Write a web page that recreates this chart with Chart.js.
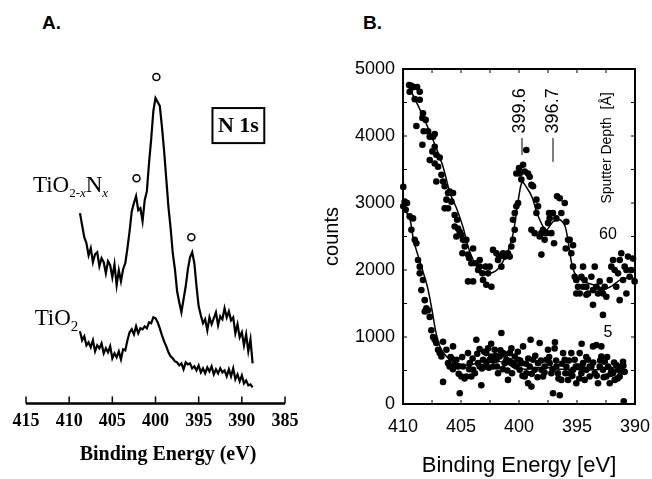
<!DOCTYPE html>
<html>
<head>
<meta charset="utf-8">
<script src="https://cdn.jsdelivr.net/npm/chart.js@4.4.1/dist/chart.umd.min.js"></script>
<style>
  body { margin: 0; background: #fff; width: 652px; height: 479px; position: relative; overflow: hidden; }
  canvas { position: absolute; top: 0; }
  #chartA { left: 0; }
  #chartB { left: 320px; }
  .panel { position: absolute; top: 13px; font: bold 19px "Liberation Sans", Arial, sans-serif; line-height: 19px; }
</style>
</head>
<body>
<div class="panel" style="left:42px">A.</div>
<div class="panel" style="left:363px">B.</div>
<canvas id="chartA" width="320" height="479"></canvas>
<canvas id="chartB" width="332" height="479"></canvas>
<script>
// Panel A: N 1s spectra (binding energy in eV, intensity in arbitrary units)
const aEnergy = [408.75, 408.5, 408.25, 408, 407.75, 407.5, 407.25, 407, 406.75, 406.5,
  406.25, 406, 405.75, 405.5, 405.25, 405, 404.75, 404.5, 404.25, 404,
  403.75, 403.5, 403.25, 403, 402.75, 402.5, 402.25, 402, 401.75, 401.5,
  401.25, 401, 400.75, 400.5, 400.25, 400, 399.75, 399.5, 399.25, 399,
  398.75, 398.5, 398.25, 398, 397.75, 397.5, 397.25, 397, 396.75, 396.5,
  396.25, 396, 395.75, 395.5, 395.25, 395, 394.75, 394.5, 394.25, 394,
  393.75, 393.5, 393.25, 393, 392.75, 392.5, 392.25, 392, 391.75, 391.5,
  391.25, 391, 390.75, 390.5, 390.25, 390, 389.75, 389.5, 389.25, 389, 388.75];
const aNitrided = [190, 178, 166, 160, 148, 155, 141, 149, 151, 137,
  145, 141, 130, 142, 138, 126, 139, 118, 133, 122,
  134, 140, 155, 172, 192, 200, 207, 193, 195, 182,
  203, 212, 240, 264, 292, 305, 301, 297, 276, 252,
  224, 196, 175, 150, 134, 112, 101, 91, 104, 117,
  134, 146, 151, 140, 117, 97,
  88, 80, 84, 73, 86, 79, 85, 91, 78, 87,
  84, 95, 86, 92, 83, 86, 70, 79, 66, 71,
  58, 69, 52, 64, 40];
const aPure = [72, 63, 67, 58, 61, 56, 63, 52, 58, 55,
  60, 50, 55, 51, 57, 45, 50, 46, 52, 44,
  54, 53, 63, 71, 74, 69, 77, 70, 75, 74,
  77, 75, 81, 80, 86, 85, 81, 75, 68, 62,
  57, 51, 47, 45, 42, 41, 38, 40, 34, 41,
  39, 40, 35, 37, 33, 38, 31, 35, 30, 36,
  32, 37, 29, 34, 30, 35, 31, 33, 27, 34,
  27, 35, 24, 29, 22, 28, 20, 23, 18, 19, 16];
const aMarkEnergy = [399.9, 402.2, 395.85];
const aMarkLevel = [326, 225, 166];

// Panel B: sputter depth 60 A (upper) and 5 A (lower), counts vs binding energy
const b60Energy = [409.48, 409.28, 409.08, 408.79, 409.43, 408.56, 408.99, 408.56, 408.85, 408.28,
  408.33, 408.05, 408.22, 407.84, 407.70, 407.41, 407.27, 408.33, 407.27, 407.47,
  407.70, 407.13, 407.27, 406.98, 406.84, 406.69, 407.13, 406.55, 406.41, 406.12,
  405.98, 405.69, 406.26, 406.41, 406.12, 405.83, 405.55, 405.34, 405.55, 405.26,
  405.11, 405.40, 404.97, 404.83, 404.68, 404.54, 404.88, 404.40, 404.31, 403.96,
  404.11, 403.74, 403.53, 404.40, 403.96, 403.39, 403.16, 402.87, 402.53, 402.67,
  403.10, 402.82, 402.38, 403.39, 402.24, 401.95, 401.81, 401.52, 401.72, 401.38,
  401.23, 400.95, 400.80, 400.66, 400.52, 400.37, 400.52, 400.37, 400.23, 400.08,
  400.23, 399.94, 399.80, 399.65, 400.00, 399.51, 399.37, 399.22, 399.08, 398.93,
  398.79, 398.50, 398.36, 398.50, 398.93, 398.65, 398.22, 398.07, 398.07, 397.93,
  397.79, 397.64, 397.50, 397.36, 397.07, 397.41, 397.21, 396.98, 396.78, 396.72,
  396.49, 396.35, 396.06, 395.92, 395.77, 395.63, 395.34, 395.97, 395.49, 395.34,
  395.20, 395.06, 394.91, 394.77, 394.62, 394.48, 394.34, 394.19, 394.05, 394.48,
  393.76, 393.62, 393.47, 393.33, 393.19, 393.04, 392.90, 392.76, 392.61, 392.47,
  392.18, 392.04, 391.89, 391.75, 391.61, 391.46, 391.32, 391.18, 391.03, 390.89,
  390.74, 390.60, 390.46, 390.31, 390.17, 390.03, 393.62, 391.32, 392.76, 394.19,
  395.06, 390.74];
const b60Counts = [4760, 4750, 4730, 4730, 4660, 4660, 4550, 4540, 4150, 4340,
  4270, 4240, 4070, 4070, 3990, 3990, 4030, 3870, 3840, 3770,
  3640, 3720, 3590, 3540, 3680, 3420, 3320, 3320, 3250, 3150,
  3170, 3150, 3050, 2920, 2920, 3020, 2820, 2750, 2650, 2620,
  2570, 2500, 2520, 2450, 2350, 2450, 2250, 2230, 2180, 2320,
  2100, 2100, 2000, 1830, 1830, 2050, 1950, 2050, 2050, 1950,
  1850, 1780, 1750, 2150, 2300, 2250, 2150, 2050, 2200, 2250,
  2200, 2250, 2200, 2350, 2450, 2600, 2750, 2850, 2950, 3000,
  3440, 3440, 3350, 3570, 3520, 3470, 3790, 3440, 3390, 3270,
  3250, 3050, 2950, 2850, 2600, 2550, 2500, 2550, 2230, 2600,
  2450, 2550, 2700, 2770, 2850, 2850, 2550, 2400, 2770, 3100,
  3070, 2850, 3000, 2720, 2450, 2450, 2370, 2320, 2250, 2050,
  1900, 1850, 1750, 1650, 1900, 2050, 1850, 1750, 1650, 1750,
  1900, 1700, 2050, 1750, 1650, 1830, 1700, 1650, 1750, 1600,
  1850, 2050, 2150, 2000, 1750, 1950, 2150, 2250, 1850, 2050,
  2000, 2200, 1900, 2000, 2170, 1830, 1480, 1550, 1330, 1630,
  1650, 1650];
const b60FitEnergy = [409.45, 409.14, 408.53, 407.84, 407.07, 406.55, 405.95, 405.34, 404.83, 404.2,
  403.4, 402.8, 401.9, 401.03, 400.5, 400.1, 399.74, 399.3, 398.88, 398.45,
  397.9, 397.6, 397.07, 396.47, 396.0, 395.4, 395.0, 394.3, 393.6, 392.6,
  392.0, 391.3, 390.7, 390.3, 390.03];
const b60FitCounts = [4720, 4610, 4390, 4120, 3790, 3540, 3150, 2900, 2640, 2250,
  2000, 1950, 2000, 2250, 2550, 3000, 3310, 3220, 3090, 2850,
  2640, 2600, 2720, 2750, 2640, 2050, 1900, 1820, 1780, 1720,
  1760, 1850, 1880, 1900, 1850];

const b5Energy = [409.98, 409.86, 409.66, 409.98, 409.77, 409.43, 409.14, 409.28, 408.99, 408.85,
  408.71, 408.56, 408.56, 408.28, 408.42, 408.13, 407.99, 407.84, 408.13, 407.70,
  407.56, 407.41, 407.27, 407.13, 406.98, 406.84, 406.55, 406.69, 406.26, 406.12,
  405.98, 405.83, 405.69, 405.55, 405.40, 406.55, 405.26, 405.11, 404.97, 404.83,
  404.54, 404.40, 404.25, 404.11, 403.96, 403.68, 403.53, 403.39, 403.25, 403.10,
  402.96, 402.82, 402.67, 402.53, 402.38, 402.24, 402.10, 401.95, 401.81, 401.67,
  401.52, 401.38, 401.23, 401.09, 400.95, 400.80, 400.66, 400.52, 400.37, 400.23,
  400.08, 399.94, 399.80, 399.65, 399.51, 399.37, 399.22, 399.08, 398.93, 398.79,
  398.65, 398.36, 398.22, 398.07, 397.93, 397.79, 397.64, 397.50, 397.36, 397.21,
  397.07, 396.93, 396.78, 396.64, 396.49, 396.35, 396.20, 396.06, 395.92, 395.77,
  395.63, 395.49, 395.34, 395.20, 395.06, 394.91, 394.77, 394.62, 394.48, 394.34,
  394.19, 394.05, 393.91, 393.76, 393.62, 393.47, 393.33, 393.19, 393.04, 392.90,
  392.76, 392.61, 392.47, 392.32, 392.18, 392.04, 391.89, 391.75, 391.61, 391.46,
  391.32, 391.18, 391.03, 390.97, 390.89,
  405.9, 405.7, 405.2, 404.9, 404.7, 404.3, 404.0, 403.8, 403.6, 403.4,
  403.2, 403.0, 402.8, 402.6, 402.4, 402.2, 402.0, 401.9, 401.6, 401.4,
  401.2, 401.0, 400.8, 400.6, 400.4, 400.1, 399.9, 399.7, 399.4, 399.2,
  398.9, 398.6, 398.4, 398.1, 397.8, 397.4, 397.1, 396.8, 396.6, 396.3,
  396.0, 395.7, 395.4, 395.1, 394.8, 394.5, 394.2, 393.9, 393.6, 393.3,
  393.0, 392.7, 392.4, 392.1, 391.8, 391.5, 391.2, 391.0, 392.9, 394.6,
  396.9, 399.0];
const b5Counts = [3240, 3020, 3000, 2950, 2900, 2800, 2770, 2600, 2450, 2400,
  2150, 2050, 1950, 1850, 1700, 1550, 1430, 1400, 1380, 1300,
  1100, 1000, 960, 910, 810, 760, 930, 710, 810, 610,
  560, 680, 860, 610, 660, 330, 560, 160, 410, 560,
  410, 760, 610, 410, 510, 960, 610, 560, 280, 660,
  560, 760, 830, 660, 710, 560, 810, 660, 460, 710,
  1060, 760, 610, 660, 360, 760, 830, 610, 710, 560,
  660, 510, 610, 860, 410, 460, 310, 560, 260, 660,
  510, 610, 910, 510, 410, 560, 660, 810, 610, 460,
  160, 830, 560, 460, 130, 360, 760, 660, 560, 360,
  460, 760, 510, 660, 310, 560, 760, 460, 610, 360,
  510, 660, 410, 560, 860, 460, 880, 310, 560, 710,
  510, 630, 410, 560, 310, 510, 460, 360, 580, 510,
  410, 560, 630, 40, 480,
  700, 520, 450, 700, 380, 520, 680, 460, 750, 820,
  530, 780, 620, 540, 900, 650, 720, 560, 800, 520,
  740, 500, 640, 460, 580, 780, 650, 420, 600, 680,
  450, 720, 400, 650, 470, 700, 520, 650, 380, 600,
  460, 650, 420, 560, 380, 520, 700, 560, 620, 420,
  650, 400, 700, 450, 620, 380, 480, 570, 860, 900,
  920, 960];
const b5FitEnergy = [409.98, 409.4, 409.1, 408.5, 407.9, 407.5, 407.2, 406.8, 406.2, 405.3,
  404.5, 403.8, 403.0, 402.5, 401.8, 401.0, 400.5, 399.5, 398.5, 397.5,
  396.5, 395.5, 394.5, 393.5, 392.5, 391.5, 390.9];
const b5FitCounts = [2950, 2750, 2450, 2100, 1750, 1400, 1100, 850, 700, 610,
  580, 600, 650, 660, 640, 600, 550, 520, 540, 540,
  520, 520, 510, 510, 520, 510, 510];

const pts = (xs, ys) => xs.map((v, i) => ({ x: v, y: ys[i] }));
const serif = '"Liberation Serif", "Times New Roman", serif';
const sans = '"Liberation Sans", Arial, sans-serif';

function drawRuns(ctx, x0, base, runs) {
  ctx.textAlign = 'left';
  ctx.textBaseline = 'alphabetic';
  let cx = x0;
  runs.forEach(([text, size, italic, drop]) => {
    ctx.font = (italic ? 'italic ' : '') + size + 'px ' + serif;
    ctx.fillText(text, cx, base + drop);
    cx += ctx.measureText(text).width;
  });
}

function rotatedText(ctx, text, px, py, font) {
  ctx.save();
  ctx.translate(px, py);
  ctx.rotate(-Math.PI / 2);
  ctx.font = font;
  ctx.textAlign = 'center';
  ctx.textBaseline = 'middle';
  ctx.fillText(text, 0, 0);
  ctx.restore();
}

const panelANotes = {
  id: 'panelANotes',
  afterDatasetsDraw(chart) {
    const { ctx, chartArea: area, scales: { x, y } } = chart;
    ctx.save();
    ctx.strokeStyle = '#000';
    ctx.fillStyle = '#000';
    // axis line with ticks pointing up
    ctx.lineWidth = 2.5;
    ctx.beginPath();
    ctx.moveTo(area.left, area.bottom);
    ctx.lineTo(area.right, area.bottom);
    ctx.stroke();
    ctx.lineWidth = 1.5;
    x.ticks.forEach(t => {
      const px = x.getPixelForValue(t.value);
      ctx.beginPath();
      ctx.moveTo(px, area.bottom);
      ctx.lineTo(px, area.bottom - 7);
      ctx.stroke();
    });
    // sample names
    drawRuns(ctx, x.getPixelForValue(414.2), y.getPixelForValue(211),
      [['TiO', 23, false, 0], ['2-', 13, false, 5], ['x', 13, true, 5], ['N', 23, false, 0], ['x', 13, true, 5]]);
    drawRuns(ctx, x.getPixelForValue(414.0), y.getPixelForValue(78),
      [['TiO', 23, false, 0], ['2', 15, false, 6]]);
    // N 1s box
    const bx0 = x.getPixelForValue(393.4), bx1 = x.getPixelForValue(387.4);
    const by0 = y.getPixelForValue(295), by1 = y.getPixelForValue(260);
    ctx.lineWidth = 2;
    ctx.strokeRect(bx0, by0, bx1 - bx0, by1 - by0);
    ctx.font = 'bold 22px ' + serif;
    ctx.textAlign = 'center';
    ctx.textBaseline = 'middle';
    ctx.fillText('N 1s', (bx0 + bx1) / 2, (by0 + by1) / 2 + 1);
    ctx.restore();
  }
};

const panelBNotes = {
  id: 'panelBNotes',
  afterDatasetsDraw(chart) {
    const { ctx, chartArea: a, scales: { x, y } } = chart;
    ctx.save();
    ctx.strokeStyle = '#000';
    ctx.fillStyle = '#000';
    ctx.lineWidth = 2;
    ctx.strokeRect(a.left, a.top, a.right - a.left, a.bottom - a.top);
    // small inner ticks
    ctx.lineWidth = 1;
    ctx.beginPath();
    for (let c = 500; c < 5000; c += 500) {
      const py = y.getPixelForValue(c);
      ctx.moveTo(a.left, py); ctx.lineTo(a.left + 4, py);
      ctx.moveTo(a.right, py); ctx.lineTo(a.right - 4, py);
    }
    for (let e = 392.5; e < 410; e += 2.5) {
      const px = x.getPixelForValue(e);
      ctx.moveTo(px, a.bottom); ctx.lineTo(px, a.bottom - 4);
      ctx.moveTo(px, a.top); ctx.lineTo(px, a.top + 4);
    }
    ctx.stroke();
    // peak markers
    ctx.beginPath();
    ctx.moveTo(x.getPixelForValue(399.74), y.getPixelForValue(3971));
    ctx.lineTo(x.getPixelForValue(399.74), y.getPixelForValue(3718));
    ctx.moveTo(x.getPixelForValue(397.07), y.getPixelForValue(3971));
    ctx.lineTo(x.getPixelForValue(397.07), y.getPixelForValue(3613));
    ctx.stroke();
    rotatedText(ctx, '399.6', x.getPixelForValue(399.9), y.getPixelForValue(4375), '18px ' + sans);
    rotatedText(ctx, '396.7', x.getPixelForValue(397.07), y.getPixelForValue(4375), '18px ' + sans);
    rotatedText(ctx, 'Sputter Depth  [\u00C5]', x.getPixelForValue(392.41), y.getPixelForValue(3822), '14px ' + sans);
    ctx.font = '16px ' + sans;
    ctx.textAlign = 'center';
    ctx.textBaseline = 'middle';
    ctx.fillText('60', x.getPixelForValue(392.33), y.getPixelForValue(2523));
    ctx.fillText('5', x.getPixelForValue(392.33), y.getPixelForValue(1060));
    ctx.restore();
  }
};

new Chart(document.getElementById('chartA'), {
  type: 'scatter',
  data: {
    datasets: [
      { label: 'TiO2-xNx', data: pts(aEnergy, aNitrided), showLine: true, borderColor: '#000', borderWidth: 2.2, pointRadius: 0, tension: 0 },
      { label: 'TiO2', data: pts(aEnergy, aPure), showLine: true, borderColor: '#000', borderWidth: 2.2, pointRadius: 0, tension: 0 },
      { label: 'peaks', data: pts(aMarkEnergy, aMarkLevel), pointRadius: 3.5, pointBorderWidth: 1.5, pointBorderColor: '#000', pointBackgroundColor: '#fff' }
    ]
  },
  options: {
    responsive: false,
    animation: false,
    layout: { padding: { left: 26, right: 35, top: 60, bottom: 12 } },
    plugins: { legend: { display: false }, tooltip: { enabled: false } },
    scales: {
      x: {
        type: 'linear', min: 385, max: 415, reverse: true,
        grid: { display: false, drawTicks: true, tickLength: 5 },
        border: { display: false },
        ticks: { stepSize: 5, padding: 2, color: '#000', maxRotation: 0, font: { family: serif, size: 18, weight: 'bold' } },
        title: { display: true, text: '     Binding Energy (eV)', color: '#000', font: { family: serif, size: 20, weight: 'bold' }, padding: { top: 9, bottom: 0 } }
      },
      y: { display: false, min: 0, max: 343 }
    }
  },
  plugins: [panelANotes]
});

new Chart(document.getElementById('chartB'), {
  type: 'scatter',
  data: {
    datasets: [
      { label: '60', data: pts(b60Energy, b60Counts), pointRadius: 3.3, pointBorderWidth: 0, pointBackgroundColor: '#000', clip: false },
      { label: '5', data: pts(b5Energy, b5Counts), pointRadius: 3.3, pointBorderWidth: 0, pointBackgroundColor: '#000', clip: false },
      { label: '60 fit', data: pts(b60FitEnergy, b60FitCounts), showLine: true, borderColor: '#000', borderWidth: 1.5, pointRadius: 0, tension: 0.3 },
      { label: '5 fit', data: pts(b5FitEnergy, b5FitCounts), showLine: true, borderColor: '#000', borderWidth: 1.5, pointRadius: 0, tension: 0.3 }
    ]
  },
  options: {
    responsive: false,
    animation: false,
    layout: { padding: { left: 0, right: 17, top: 69, bottom: 0 } },
    plugins: { legend: { display: false }, tooltip: { enabled: false } },
    scales: {
      x: {
        type: 'linear', min: 390, max: 410, reverse: true,
        grid: { display: false, drawTicks: true, tickLength: 10 },
        border: { display: false },
        ticks: { stepSize: 5, padding: 2, color: '#000', maxRotation: 0, font: { family: sans, size: 18 } },
        title: { display: true, text: 'Binding Energy [eV]', color: '#000', font: { family: sans, size: 22 }, padding: { top: 13, bottom: 0 } }
      },
      y: {
        min: 0, max: 5000,
        grid: { display: false, drawTicks: false },
        border: { display: false },
        ticks: { stepSize: 1000, padding: 8, color: '#000', font: { family: sans, size: 18 }, callback: v => String(v) },
        title: { display: true, text: 'counts', color: '#000', font: { family: sans, size: 20 }, padding: { top: 0, bottom: 3 } }
      }
    }
  },
  plugins: [panelBNotes]
});
</script>
</body>
</html>
